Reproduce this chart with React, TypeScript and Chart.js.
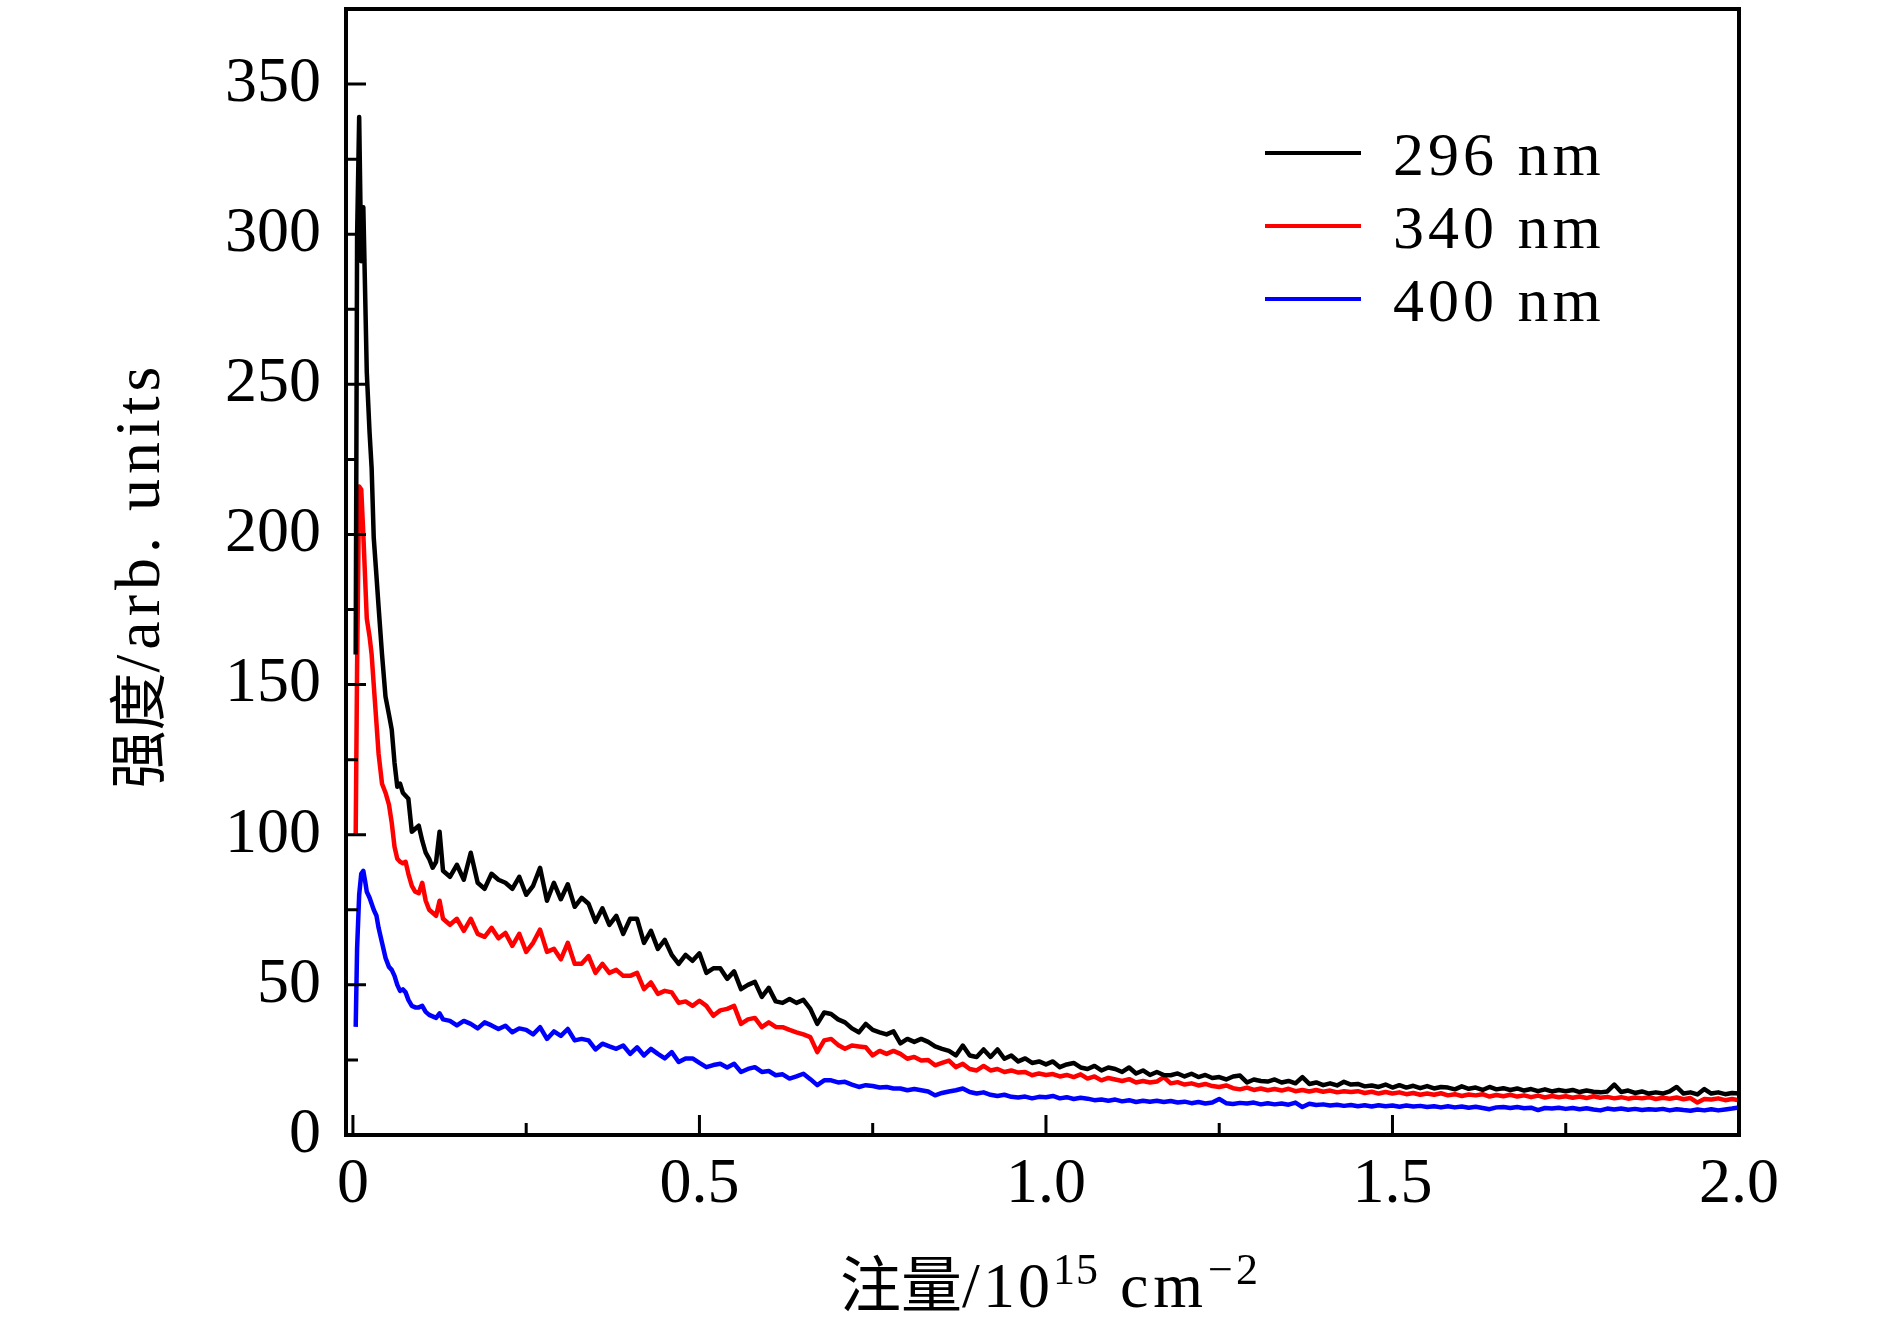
import React, { useEffect, useRef } from 'react';
import { Chart, registerables } from 'chart.js';

Chart.register(...registerables);

// Dose (10^15 cm^-2)
const dose = [
  0.004, 0.006, 0.009, 0.012, 0.015, 0.018, 0.020, 0.024, 0.027, 0.030,
  0.034, 0.037, 0.042, 0.047, 0.052, 0.056, 0.060, 0.064, 0.068, 0.072,
  0.076, 0.080, 0.085, 0.090, 0.095, 0.100, 0.105, 0.110, 0.115, 0.120,
  0.125,
  0.13, 0.14, 0.15, 0.16, 0.17, 0.18, 0.19, 0.20, 0.21, 0.22,
  0.23, 0.24, 0.25, 0.26, 0.27, 0.28, 0.29, 0.30, 0.31, 0.32,
  0.33, 0.34, 0.35, 0.36, 0.37, 0.38, 0.39, 0.40, 0.41, 0.42,
  0.43, 0.44, 0.45, 0.46, 0.47, 0.48, 0.49, 0.50, 0.51, 0.52,
  0.53, 0.54, 0.55, 0.56, 0.57, 0.58, 0.59, 0.60, 0.61, 0.62,
  0.63, 0.64, 0.65, 0.66, 0.67, 0.68, 0.69, 0.70, 0.71, 0.72,
  0.73, 0.74, 0.75, 0.76, 0.77, 0.78, 0.79, 0.80, 0.81, 0.82,
  0.83, 0.84, 0.85, 0.86, 0.87, 0.88, 0.89, 0.90, 0.91, 0.92,
  0.93, 0.94, 0.95, 0.96, 0.97, 0.98, 0.99, 1.00, 1.01, 1.02,
  1.03, 1.04, 1.05, 1.06, 1.07, 1.08, 1.09, 1.10, 1.11, 1.12,
  1.13, 1.14, 1.15, 1.16, 1.17, 1.18, 1.19, 1.20, 1.21, 1.22,
  1.23, 1.24, 1.25, 1.26, 1.27, 1.28, 1.29, 1.30, 1.31, 1.32,
  1.33, 1.34, 1.35, 1.36, 1.37, 1.38, 1.39, 1.40, 1.41, 1.42,
  1.43, 1.44, 1.45, 1.46, 1.47, 1.48, 1.49, 1.50, 1.51, 1.52,
  1.53, 1.54, 1.55, 1.56, 1.57, 1.58, 1.59, 1.60, 1.61, 1.62,
  1.63, 1.64, 1.65, 1.66, 1.67, 1.68, 1.69, 1.70, 1.71, 1.72,
  1.73, 1.74, 1.75, 1.76, 1.77, 1.78, 1.79, 1.80, 1.81, 1.82,
  1.83, 1.84, 1.85, 1.86, 1.87, 1.88, 1.89, 1.90, 1.91, 1.92,
  1.93, 1.94, 1.95, 1.96, 1.97, 1.98, 1.99, 2.00,
];

const intensity296 = [
  160, 299, 339, 291, 309, 276, 254, 234, 222, 199,
  186, 176, 160, 146, 140, 135, 124, 116, 117, 114,
  113, 112, 101, 102, 103, 98, 94, 92, 89, 91,
  101,
  88, 86, 90, 85, 94, 84, 82, 87, 85, 84,
  82, 86, 80, 83, 89, 78, 84, 78.5, 83.5, 76,
  79, 77, 71, 75.5, 70, 73, 67, 72, 72, 64,
  68, 62, 65, 60, 57, 60, 58, 60.5, 54, 55.5,
  55.5, 52, 54.5, 48.6, 50, 51, 46, 49, 44.5, 44,
  45.3, 44, 45, 42, 37, 40.8, 40.3, 38.5, 37.5, 35.5,
  34.2, 37, 35, 34.2, 33.5, 34.5, 30.5, 32, 31, 32,
  31, 29.5, 28.7, 28, 26.5, 29.8, 26.5, 26, 28.5, 26,
  28.5, 25.4, 26.5, 24.5, 25.5, 24, 24.5, 23.5, 24.5, 22.6,
  23.5, 24, 22.5, 22, 23, 21.5, 22.5, 22, 21, 22.5,
  20.5, 21.5, 20, 21, 20, 19.9, 20.5, 19.5, 20.4, 19.3,
  20, 19, 19.3, 18.5, 19.5, 19.8, 17.5, 18.5, 18, 17.8,
  18.5, 17.5, 18, 17.2, 19.3, 17, 17.5, 16.6, 17.2, 16.5,
  17.7, 16.8, 17, 16.2, 16.5, 16, 16.8, 15.8, 16.6, 15.8,
  16.4, 15.6, 16.3, 15.5, 16, 15.8, 15.2, 16.2, 15.4, 15.8,
  15, 16, 15.2, 15.6, 15, 15.5, 14.8, 15.3, 14.6, 15.2,
  14.5, 15, 14.6, 15, 14.3, 14.8, 14.4, 14.2, 14.5, 16.8,
  14.3, 14.8, 14, 14.5, 13.8, 14.2, 13.8, 14.5, 16, 13.8,
  14.2, 13.5, 15.3, 13.8, 14.2, 13.6, 14, 13.8,
];

const intensity340 = [
  100, 156, 216, 215, 200, 183, 172, 166, 160, 150,
  137, 127, 117, 114, 110, 104, 96, 92, 91, 90.5,
  91, 87, 83, 81, 80.5, 84, 78, 75, 74, 73,
  78,
  72, 70, 72, 68, 72, 67, 66, 69, 65.5, 67.3,
  63, 67, 61, 64, 68.4, 61, 62, 58.5, 64, 57,
  57, 59.6, 54, 57, 54, 55, 53, 53, 54, 48.6,
  50.8, 47, 48, 47.5, 44, 44.5, 43, 44.7, 43, 39.7,
  41.5, 42, 43, 37, 38.5, 39, 35.9, 37.5, 36, 35.9,
  35, 34.2, 33.5, 32.6, 27.6, 31.5, 32, 30, 28.7, 29.8,
  29.5, 29.2, 26.5, 28, 27, 28, 27, 25.4, 26, 24.8,
  25, 23.2, 24, 24.8, 22.6, 23.7, 22, 21.5, 23, 21.5,
  22, 21, 21.5, 20.8, 21, 19.9, 20.5, 20, 20.3, 19.5,
  20, 19.3, 20.2, 18.8, 19.5, 18.2, 19, 18.5, 18, 18.6,
  17.5, 18, 17.5, 17.8, 19.3, 17.2, 17.6, 16.8, 17.2, 16.5,
  17, 16.3, 16, 16.5, 15.6, 15.2, 15.8, 15, 15.5, 14.9,
  15.3, 14.8, 15.4, 14.6, 15, 14.5, 15, 14.4, 14.8, 14.2,
  14.6, 14.3, 14.6, 14, 14.4, 13.8, 14.3, 13.8, 14.2, 13.6,
  14, 13.4, 13.8, 13.4, 13.9, 13.2, 13.6, 13, 13.5, 13.2,
  13.6, 12.8, 13.3, 12.9, 13.4, 12.8, 13.2, 12.6, 13.1, 12.5,
  13, 12.6, 12.9, 12.4, 12.8, 12.3, 12.9, 12.4, 12.7, 12.2,
  12.6, 12.1, 12.5, 12.2, 12.6, 12, 12.4, 12.1, 12.5, 11.9,
  12.3, 10.8, 12, 11.8, 12.2, 11.6, 12, 11.6,
];

const intensity400 = [
  36, 62, 80, 87, 88, 84, 81, 79, 77, 75,
  73, 69, 64, 59, 56, 55, 53, 50, 48, 48.5,
  47.5, 45, 43, 42.5, 42.5, 43, 41, 40, 39.5, 39,
  40.5,
  38.5, 38, 36.5, 38, 37, 35.5, 37.5, 36.5, 35.3, 36.4,
  34.2, 35.5, 35, 33.5, 35.9, 32, 34.5, 33, 35.3, 31.5,
  32, 31.5, 28.5, 30.4, 29.5, 28.7, 29.8, 27, 29.2, 26.5,
  28.7, 27, 25.5, 27.6, 24.3, 25.5, 25.5, 24, 22.6, 23.3,
  23.7, 22.5, 23.7, 21, 22, 22.6, 21, 21.3, 19.9, 20.2,
  18.8, 19.5, 20.4, 18.6, 16.6, 18.2, 18.2, 17.5, 17.7, 16.8,
  16, 16.6, 16.3, 15.8, 16, 15.5, 15.5, 14.9, 15.3, 14.9,
  14.5, 13.2, 14, 14.5, 14.9, 15.5, 14.3, 13.8, 14.2, 13.4,
  13, 13.4, 12.7, 12.5, 12.8, 12.2, 12.7, 12.6, 13, 12.2,
  12.6, 12, 12.4, 12.1, 11.6, 11.8, 11.4, 11.8, 11.2, 11.6,
  11, 11.4, 11.1, 11.4, 11, 11.3, 10.8, 11.1, 10.6, 11,
  10.5, 10.8, 12, 10.6, 10.3, 10.7, 10.5, 10.8, 10.2, 10.6,
  10.2, 10.5, 10.1, 10.8, 9.3, 10.4, 10, 10.2, 9.8, 10.1,
  9.7, 10, 9.6, 9.9, 9.5, 9.9, 9.6, 9.8, 9.4, 9.8,
  9.5, 9.7, 9.3, 9.6, 9.2, 9.6, 9.2, 9.5, 9.1, 9.4,
  9, 8.6, 9.2, 9.3, 9, 9.3, 8.9, 9.1, 8.3, 9,
  8.8, 9.1, 8.7, 9, 8.6, 8.9, 8.5, 8.2, 8.8, 8.5,
  8.8, 8.4, 8.7, 8.3, 8.6, 8.4, 8.7, 8.2, 8.6, 8.3,
  8.1, 8.5, 8.2, 8.6, 8.2, 8.5, 8.8, 9.2,
];

const seriesLabels = ['296 nm', '340 nm', '400 nm'];
const seriesColors = ['#000000', '#ff0000', '#0000ff'];

const xMajorTicks = [0, 0.5, 1.0, 1.5, 2.0];
const xTickLabels = ['0', '0.5', '1.0', '1.5', '2.0'];
const xMinorTicks = [0.25, 0.75, 1.25, 1.75];
const yMajorTicks = [0, 50, 100, 150, 200, 250, 300, 350];
const yTickLabels = ['0', '50', '100', '150', '200', '250', '300', '350'];
const yMinorTicks = [25, 75, 125, 175, 225, 275, 325];

const SERIF = '"Liberation Serif", "Times New Roman", serif';
const CJK = '"Noto Sans CJK SC", sans-serif';

type Seg = { text: string; font: string; rise: number; spacing: number };

function segWidth(ctx: CanvasRenderingContext2D, segs: Seg[]) {
  let w = 0;
  for (const s of segs) {
    ctx.font = s.font;
    (ctx as any).letterSpacing = s.spacing + 'px';
    w += ctx.measureText(s.text).width;
  }
  return w;
}

function drawSegs(ctx: CanvasRenderingContext2D, segs: Seg[], cx: number, baseY: number) {
  const total = segWidth(ctx, segs);
  let x = cx - total / 2;
  ctx.textAlign = 'left';
  ctx.textBaseline = 'alphabetic';
  for (const s of segs) {
    ctx.font = s.font;
    (ctx as any).letterSpacing = s.spacing + 'px';
    ctx.fillText(s.text, x, baseY - s.rise);
    x += ctx.measureText(s.text).width;
  }
  (ctx as any).letterSpacing = '0px';
}

const decorPlugin = {
  id: 'decor',
  afterDatasetsDraw(chart: any) {
    const { ctx, chartArea: a, scales } = chart;
    const xs = scales.x;
    const ys = scales.y;
    ctx.save();
    ctx.strokeStyle = '#000';
    ctx.fillStyle = '#000';
    ctx.lineCap = 'butt';

    // inward ticks
    ctx.lineWidth = 3;
    ctx.beginPath();
    for (const v of xMajorTicks) {
      const p = xs.getPixelForValue(v);
      ctx.moveTo(p, a.bottom);
      ctx.lineTo(p, a.bottom - 20);
    }
    for (const v of xMinorTicks) {
      const p = xs.getPixelForValue(v);
      ctx.moveTo(p, a.bottom);
      ctx.lineTo(p, a.bottom - 12);
    }
    for (const v of yMajorTicks) {
      const p = ys.getPixelForValue(v);
      ctx.moveTo(a.left, p);
      ctx.lineTo(a.left + 20, p);
    }
    for (const v of yMinorTicks) {
      const p = ys.getPixelForValue(v);
      ctx.moveTo(a.left, p);
      ctx.lineTo(a.left + 12, p);
    }
    ctx.stroke();

    // frame
    ctx.lineWidth = 4;
    ctx.strokeRect(a.left, a.top, a.right - a.left, a.bottom - a.top);

    // legend
    chart.data.datasets.forEach((ds: any, i: number) => {
      const ly = a.top + 144 + i * 73;
      ctx.strokeStyle = ds.borderColor;
      ctx.lineWidth = 4;
      ctx.beginPath();
      ctx.moveTo(a.right - 474, ly);
      ctx.lineTo(a.right - 378, ly);
      ctx.stroke();
      ctx.font = '62px ' + SERIF;
      (ctx as any).letterSpacing = '4px';
      ctx.textAlign = 'left';
      ctx.textBaseline = 'alphabetic';
      ctx.fillStyle = '#000';
      ctx.fillText(ds.label, a.right - 346, ly + 22);
      (ctx as any).letterSpacing = '0px';
    });

    // x axis title
    const xSegs: Seg[] = [
      { text: '注量', font: '61px ' + CJK, rise: 0, spacing: 0 },
      { text: '/10', font: '64px ' + SERIF, rise: 0, spacing: 3 },
      { text: '15', font: '44px ' + SERIF, rise: 23, spacing: 1 },
      { text: ' cm', font: '64px ' + SERIF, rise: 0, spacing: 5 },
      { text: '\u22122', font: '44px ' + SERIF, rise: 23, spacing: 3 },
    ];
    drawSegs(ctx, xSegs, (a.left + a.right) / 2 + 8, a.bottom + 172);

    // y axis title (rotated)
    ctx.save();
    ctx.translate(159, (a.top + a.bottom) / 2 + 3);
    ctx.rotate(-Math.PI / 2);
    const ySegs: Seg[] = [
      { text: '强度', font: '58px ' + CJK, rise: 0, spacing: 0 },
      { text: '/arb. units', font: '64px ' + SERIF, rise: 0, spacing: 5 },
    ];
    drawSegs(ctx, ySegs, 0, 0);
    ctx.restore();

    ctx.restore();
  },
};

export default function App() {
  const canvasRef = useRef<HTMLCanvasElement | null>(null);

  useEffect(() => {
    const canvas = canvasRef.current;
    if (!canvas) return;
    const series = [intensity296, intensity340, intensity400];
    const chart = new Chart(canvas, {
      type: 'line',
      data: {
        datasets: series.map((arr, k) => ({
          label: seriesLabels[k],
          data: dose
            .map((x, i) => ({ x, y: arr[i] }))
            .filter((p) => p.y !== undefined),
          borderColor: seriesColors[k],
          backgroundColor: seriesColors[k],
          borderWidth: 4.5,
          borderJoinStyle: 'round',
          pointRadius: 0,
          tension: 0,
          fill: false,
        })),
      },
      options: {
        animation: false,
        responsive: false,
        devicePixelRatio: 1,
        events: [],
        layout: { autoPadding: false, padding: { left: 0, top: 9, right: 151, bottom: 0 } },
        plugins: {
          legend: { display: false },
          title: { display: false },
          tooltip: { enabled: false },
        },
        scales: {
          x: {
            type: 'linear',
            min: -0.01,
            max: 2.0,
            grid: { display: false, drawTicks: false },
            border: { display: false },
            afterBuildTicks: (s: any) => {
              s.ticks = xMajorTicks.map((v) => ({ value: v }));
            },
            afterFit: (s: any) => {
              s.height = 188;
              s.paddingLeft = 0;
              s.paddingRight = 0;
            },
            ticks: {
              autoSkip: false,
              maxRotation: 0,
              color: '#000',
              padding: 12,
              font: { family: SERIF, size: 64 },
              callback: (v: any) => {
                const i = xMajorTicks.indexOf(Number(v));
                return i >= 0 ? xTickLabels[i] : '';
              },
            },
          },
          y: {
            type: 'linear',
            min: 0,
            max: 375,
            grid: { display: false, drawTicks: false },
            border: { display: false },
            afterBuildTicks: (s: any) => {
              s.ticks = yMajorTicks.map((v) => ({ value: v }));
            },
            afterFit: (s: any) => {
              s.width = 346;
              s.paddingTop = 0;
              s.paddingBottom = 0;
            },
            ticks: {
              autoSkip: false,
              color: '#000',
              padding: 25,
              font: { family: SERIF, size: 64 },
              callback: (v: any) => {
                const i = yMajorTicks.indexOf(Number(v));
                return i >= 0 ? yTickLabels[i] : '';
              },
            },
          },
        },
      },
      plugins: [decorPlugin],
    } as any);
    return () => chart.destroy();
  }, []);

  return (
    <div style={{ position: 'absolute', left: 0, top: 0, width: 1890, height: 1323, background: '#fff' }}>
      <canvas ref={canvasRef} width={1890} height={1323} style={{ width: 1890, height: 1323, display: 'block' }} />
    </div>
  );
}
